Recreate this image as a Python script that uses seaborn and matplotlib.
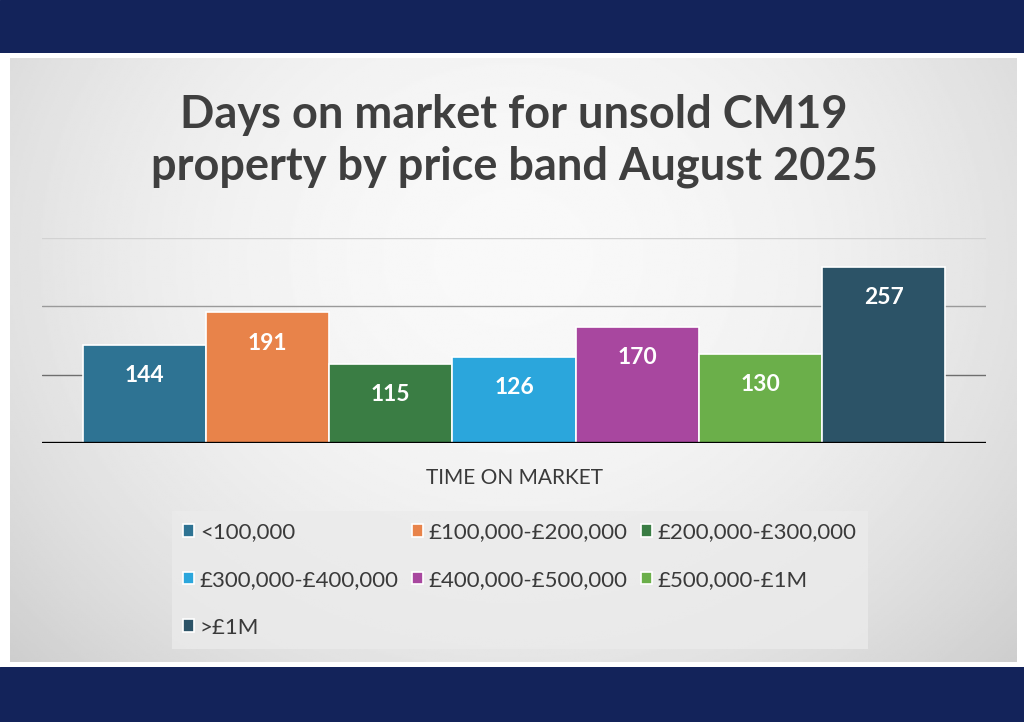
import numpy as np
import pandas as pd
import matplotlib.pyplot as plt
import seaborn as sns

# chart data
bands = ["<100,000", "£100,000-£200,000", "£200,000-£300,000",
         "£300,000-£400,000", "£400,000-£500,000", "£500,000-£1M", ">£1M"]
days = [144, 191, 115, 126, 170, 130, 257]
category = "TIME ON MARKET"
colors = ["#2E7393", "#E8834A", "#3A7D44", "#2BA6DC", "#A8479F", "#6BAF4A", "#2C5367"]

df = pd.DataFrame({"cat": [category] * len(bands), "band": bands, "days": days})

sns.set_theme(style="white")
plt.rcParams["font.family"] = ["Lato", "DejaVu Sans"]

fig = plt.figure(figsize=(10.24, 7.22), dpi=100)
fig.patch.set_facecolor("white")
W, H = 1024, 722

def box(x0, y0, x1, y1):
    # pixel box (top-left origin) -> figure rect
    return [x0 / W, 1 - y1 / H, (x1 - x0) / W, (y1 - y0) / H]

navy = "#13235A"
for rect in (box(0, 0, 1024, 53), box(0, 667, 1024, 722)):
    a = fig.add_axes(rect)
    a.set_facecolor(navy)
    a.set_axis_off()
    a.add_patch(plt.Rectangle((0, 0), 1, 1, color=navy, transform=a.transAxes))

# gradient panel behind the chart
bg = fig.add_axes(box(10, 58, 1017, 662))
yy, xx = np.mgrid[0:1:300j, 0:1:500j]
r2 = ((xx - 0.5) / 0.62) ** 2 + ((yy - 0.33) / 0.9) ** 2
shade = np.clip(0.975 - 0.14 * r2, 0.80, 0.975)
bg.imshow(shade, cmap="gray", vmin=0, vmax=1, aspect="auto", extent=(0, 1, 1, 0))
bg.set_axis_off()

# main axes
ax = fig.add_axes(box(42, 238, 986, 443))
ax.patch.set_alpha(0)
sns.barplot(data=df, x="cat", y="days", hue="band", hue_order=bands,
            palette=colors, width=0.914, edgecolor="white", linewidth=1.2,
            saturation=1, legend=True, ax=ax)
ax.set_ylim(0, 300)
ax.set_xlim(-0.5, 0.5)
for g, c in zip([100, 200, 300], ["#6E6E6E", "#9A9A9A", "#D2D2D2"]):
    ax.axhline(g, color=c, lw=1, zorder=0)
ax.axhline(0, color="black", lw=2.4, zorder=3)
for s in ax.spines.values():
    s.set_visible(False)
ax.set_yticks([])
ax.set_xlabel("")
ax.set_ylabel("")
ax.tick_params(axis="x", length=0, pad=18, labelsize=15, labelcolor="#3A3A3A")

for cont in ax.containers:
    for p in cont:
        ax.annotate(f"{p.get_height():.0f}",
                    (p.get_x() + p.get_width() / 2, p.get_height()),
                    xytext=(0, -22), textcoords="offset points",
                    ha="center", va="center", color="white",
                    fontsize=16.5, fontweight="bold")

# legend, row-major order
handles, labels = ax.get_legend_handles_labels()
ax.get_legend().remove()
order = [0, 3, 6, 1, 4, 2, 5]
leg = fig.legend([handles[i] for i in order], [labels[i] for i in order],
                 loc="upper left", bbox_to_anchor=(172 / W, 1 - 511 / H),
                 borderaxespad=0, ncol=3, frameon=True, fancybox=False,
                 fontsize=16, handlelength=0.5, handleheight=0.5,
                 handletextpad=0.25, columnspacing=0.6, labelspacing=1.25,
                 borderpad=0.5)
leg.get_frame().set_facecolor("#EBEBEB")
leg.get_frame().set_edgecolor("none")
for t in leg.get_texts():
    t.set_color("#3A3A3A")

fig.text(0.502, 1 - 141 / H,
         "Days on market for unsold CM19\nproperty by price band August 2025",
         ha="center", va="center", fontsize=32.5, fontweight="bold",
         color="#3F3F3F", linespacing=1.3)

fig.savefig("out.png", dpi=100)
